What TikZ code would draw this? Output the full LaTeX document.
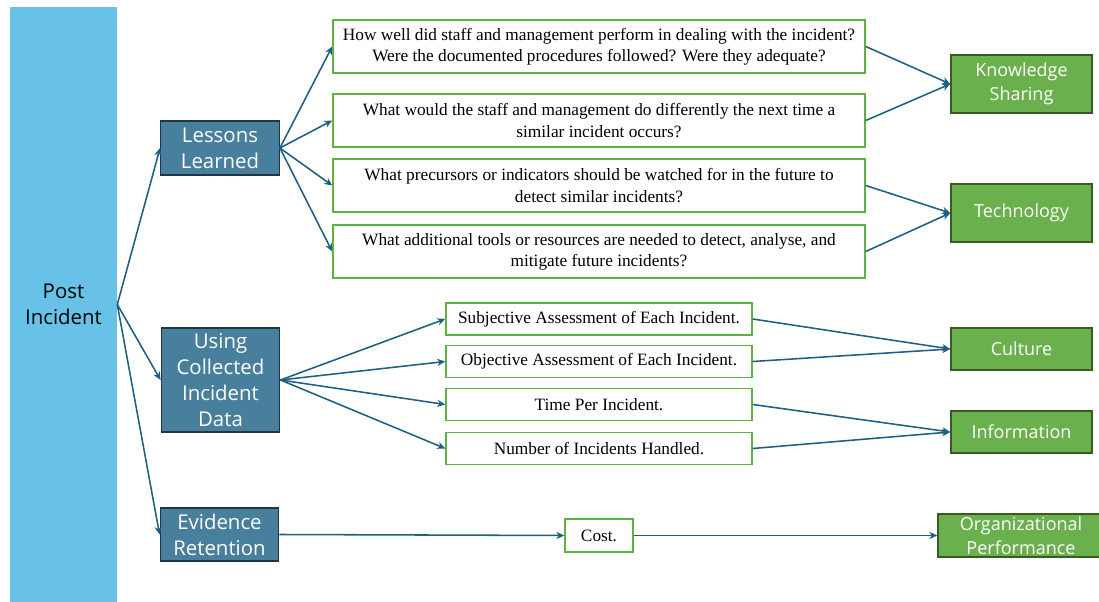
\documentclass[tikz,border=0pt]{standalone}
\usepackage{fontspec}
\setmainfont{Liberation Serif}
\newfontfamily\labelfont{Open Sans}
\usepackage{tikz}
\usetikzlibrary{arrows.meta}

\definecolor{barblue}{HTML}{68C1E6}
\definecolor{catfill}{HTML}{477F9C}
\definecolor{catline}{HTML}{1E3746}
\definecolor{qline}{HTML}{5EB23F}
\definecolor{outfill}{HTML}{6AB04C}
\definecolor{outline}{HTML}{385A24}
\definecolor{arrowcol}{HTML}{1F5F82}

\begin{document}
\begin{tikzpicture}[
        x=0.025cm, y=-0.025cm,
        category/.style={draw=catline, line width=1pt, fill=catfill, text=white, align=center,
            minimum width=2.96cm, font=\labelfont\fontsize{14.5}{18.5}\selectfont, inner sep=0pt},
        question/.style={draw=qline, line width=1pt, fill=white, align=center,
            minimum width=13.3cm, minimum height=1.325cm, font=\fontsize{12.3}{15}\selectfont, inner sep=0pt},
        metric/.style={draw=qline, line width=1pt, fill=white, align=center,
            minimum width=7.65cm, minimum height=0.8cm, font=\fontsize{12.3}{15}\selectfont, inner sep=0pt},
        outcome/.style={draw=outline, line width=1pt, fill=outfill, text=white, align=center,
            minimum width=3.525cm, font=\labelfont\fontsize{12.8}{17}\selectfont, inner sep=0pt},
        arrow/.style={-{Stealth[length=2mm, width=1.8mm]}, draw=arrowcol, line width=1.1pt}
    ]
    \useasboundingbox (0,0) rectangle (1099,602);

    % Post incident bar
    \node[fill=barblue, minimum width=2.675cm, minimum height=14.875cm, align=center,
        font=\labelfont\fontsize{14.5}{18.5}\selectfont, inner sep=0pt] (post) at (63.5,304.5) {Post\\Incident};

    % Categories
    \node[category, minimum height=1.35cm] (lessons) at (220,148) {Lessons\\Learned};
    \node[category, minimum height=2.6cm] (using) at (220.5,380) {Using\\Collected\\Incident\\Data};
    \node[category, minimum height=1.325cm] (evidence) at (219.5,534.5) {Evidence\\Retention};

    % Lessons learned questions
    \node[question] (q1) at (599,46.5) {How well did staff and management perform in dealing with the incident?\\Were the documented procedures followed? Were they adequate?};
    \node[question] (q2) at (599,120.5) {What would the staff and management do differently the next time a\\similar incident occurs?};
    \node[question] (q3) at (599,185.5) {What precursors or indicators should be watched for in the future to\\detect similar incidents?};
    \node[question] (q4) at (599,251.5) {What additional tools or resources are needed to detect, analyse, and\\mitigate future incidents?};

    % Collected data metrics
    \node[metric] (d1) at (599,319) {Subjective Assessment of Each Incident.};
    \node[metric] (d2) at (599,361.5) {Objective Assessment of Each Incident.};
    \node[metric] (d3) at (599,404.5) {Time Per Incident.};
    \node[metric] (d4) at (599,448.5) {Number of Incidents Handled.};

    % Evidence retention
    \node[metric, minimum width=1.7cm, minimum height=0.825cm] (cost) at (599,535.5) {Cost.};

    % Outcomes
    \node[outcome, minimum height=1.45cm] (knowledge) at (1021.5,84) {Knowledge\\Sharing};
    \node[outcome, minimum height=1.45cm] (technology) at (1021.5,213) {Technology};
    \node[outcome, minimum height=1.05cm] (culture) at (1021.5,349) {Culture};
    \node[outcome, minimum height=1.05cm] (information) at (1021.5,432) {Information};
    \node[outcome, minimum width=4.15cm, minimum height=1.075cm] (orgperf) at (1021,535.5) {Organizational\\Performance};

    % Arrows
    \draw[arrow] (post.east) -- (lessons.west);
    \draw[arrow] (post.east) -- (using.west);
    \draw[arrow] (post.east) -- (evidence.west);

    \draw[arrow] (lessons.east) -- (q1.west);
    \draw[arrow] (lessons.east) -- (q2.west);
    \draw[arrow] (lessons.east) -- (q3.west);
    \draw[arrow] (lessons.east) -- (q4.west);

    \draw[arrow] (using.east) -- (d1.west);
    \draw[arrow] (using.east) -- (d2.west);
    \draw[arrow] (using.east) -- (d3.west);
    \draw[arrow] (using.east) -- (d4.west);

    \draw[arrow] (evidence.east) -- (cost.west);

    \draw[arrow] (q1.east) -- (knowledge.west);
    \draw[arrow] (q2.east) -- (knowledge.west);
    \draw[arrow] (q3.east) -- (technology.west);
    \draw[arrow] (q4.east) -- (technology.west);

    \draw[arrow] (d1.east) -- (culture.west);
    \draw[arrow] (d2.east) -- (culture.west);
    \draw[arrow] (d3.east) -- (information.west);
    \draw[arrow] (d4.east) -- (information.west);

    \draw[arrow] (cost.east) -- (orgperf.west);

    \end{tikzpicture}
\end{document}
